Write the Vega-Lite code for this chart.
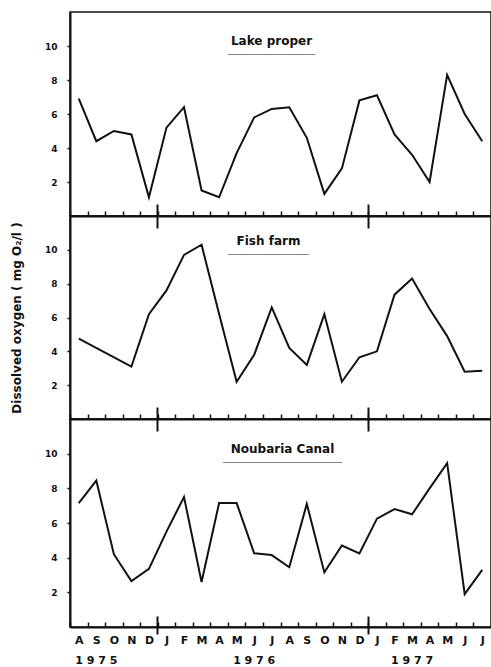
{
  "$schema": "https://vega.github.io/schema/vega-lite/v6.json",
  "background": "white",
  "padding": {"left": 9, "top": 11, "right": 0, "bottom": 0},
  "bounds": "flush",
  "spacing": 0,
  "config": {
    "font": "DejaVu Sans",
    "view": {"stroke": "#111", "strokeWidth": 1.5},
    "axis": {"grid": false, "labelFont": "DejaVu Sans", "labelFontWeight": "bold", "labelColor": "#111", "domainColor": "#111", "tickColor": "#111", "titleColor": "#111", "titleFont": "DejaVu Sans", "labelAngle": 0, "labelOverlap": false},
    "title": {"font": "DejaVu Sans", "fontWeight": "bold", "color": "#111", "subtitleColor": "#111", "subtitleFont": "DejaVu Sans", "frame": "group", "anchor": "middle", "fontSize": 12, "subtitleFontSize": 7, "subtitlePadding": -1}
  },
  "datasets": {
    "oxygen": [
      {"site": "Lake proper", "month": "1975-08", "do": 6.9},
      {"site": "Lake proper", "month": "1975-09", "do": 4.4},
      {"site": "Lake proper", "month": "1975-10", "do": 5.0},
      {"site": "Lake proper", "month": "1975-11", "do": 4.8},
      {"site": "Lake proper", "month": "1975-12", "do": 1.1},
      {"site": "Lake proper", "month": "1976-01", "do": 5.2},
      {"site": "Lake proper", "month": "1976-02", "do": 6.4},
      {"site": "Lake proper", "month": "1976-03", "do": 1.5},
      {"site": "Lake proper", "month": "1976-04", "do": 1.1},
      {"site": "Lake proper", "month": "1976-05", "do": 3.7},
      {"site": "Lake proper", "month": "1976-06", "do": 5.8},
      {"site": "Lake proper", "month": "1976-07", "do": 6.3},
      {"site": "Lake proper", "month": "1976-08", "do": 6.4},
      {"site": "Lake proper", "month": "1976-09", "do": 4.6},
      {"site": "Lake proper", "month": "1976-10", "do": 1.3},
      {"site": "Lake proper", "month": "1976-11", "do": 2.8},
      {"site": "Lake proper", "month": "1976-12", "do": 6.8},
      {"site": "Lake proper", "month": "1977-01", "do": 7.1},
      {"site": "Lake proper", "month": "1977-02", "do": 4.8},
      {"site": "Lake proper", "month": "1977-03", "do": 3.6},
      {"site": "Lake proper", "month": "1977-04", "do": 2.0},
      {"site": "Lake proper", "month": "1977-05", "do": 8.3},
      {"site": "Lake proper", "month": "1977-06", "do": 6.0},
      {"site": "Lake proper", "month": "1977-07", "do": 4.4},
      {"site": "Fish farm", "month": "1975-08", "do": 4.75},
      {"site": "Fish farm", "month": "1975-11", "do": 3.1},
      {"site": "Fish farm", "month": "1975-12", "do": 6.2},
      {"site": "Fish farm", "month": "1976-01", "do": 7.6},
      {"site": "Fish farm", "month": "1976-02", "do": 9.7},
      {"site": "Fish farm", "month": "1976-03", "do": 10.3},
      {"site": "Fish farm", "month": "1976-04", "do": 6.2},
      {"site": "Fish farm", "month": "1976-05", "do": 2.2},
      {"site": "Fish farm", "month": "1976-06", "do": 3.8},
      {"site": "Fish farm", "month": "1976-07", "do": 6.6},
      {"site": "Fish farm", "month": "1976-08", "do": 4.2},
      {"site": "Fish farm", "month": "1976-09", "do": 3.2},
      {"site": "Fish farm", "month": "1976-10", "do": 6.2},
      {"site": "Fish farm", "month": "1976-11", "do": 2.2},
      {"site": "Fish farm", "month": "1976-12", "do": 3.65},
      {"site": "Fish farm", "month": "1977-01", "do": 4.0},
      {"site": "Fish farm", "month": "1977-02", "do": 7.35},
      {"site": "Fish farm", "month": "1977-03", "do": 8.3},
      {"site": "Fish farm", "month": "1977-04", "do": 6.5},
      {"site": "Fish farm", "month": "1977-05", "do": 4.9},
      {"site": "Fish farm", "month": "1977-06", "do": 2.8},
      {"site": "Fish farm", "month": "1977-07", "do": 2.85},
      {"site": "Noubaria Canal", "month": "1975-08", "do": 7.15},
      {"site": "Noubaria Canal", "month": "1975-09", "do": 8.45},
      {"site": "Noubaria Canal", "month": "1975-10", "do": 4.2},
      {"site": "Noubaria Canal", "month": "1975-11", "do": 2.65},
      {"site": "Noubaria Canal", "month": "1975-12", "do": 3.35},
      {"site": "Noubaria Canal", "month": "1976-01", "do": 5.5},
      {"site": "Noubaria Canal", "month": "1976-02", "do": 7.5},
      {"site": "Noubaria Canal", "month": "1976-03", "do": 2.6},
      {"site": "Noubaria Canal", "month": "1976-04", "do": 7.15},
      {"site": "Noubaria Canal", "month": "1976-05", "do": 7.15},
      {"site": "Noubaria Canal", "month": "1976-06", "do": 4.25},
      {"site": "Noubaria Canal", "month": "1976-07", "do": 4.15},
      {"site": "Noubaria Canal", "month": "1976-08", "do": 3.45},
      {"site": "Noubaria Canal", "month": "1976-09", "do": 7.1},
      {"site": "Noubaria Canal", "month": "1976-10", "do": 3.15},
      {"site": "Noubaria Canal", "month": "1976-11", "do": 4.7},
      {"site": "Noubaria Canal", "month": "1976-12", "do": 4.25},
      {"site": "Noubaria Canal", "month": "1977-01", "do": 6.25},
      {"site": "Noubaria Canal", "month": "1977-02", "do": 6.8},
      {"site": "Noubaria Canal", "month": "1977-03", "do": 6.5},
      {"site": "Noubaria Canal", "month": "1977-04", "do": 8.0},
      {"site": "Noubaria Canal", "month": "1977-05", "do": 9.45},
      {"site": "Noubaria Canal", "month": "1977-06", "do": 1.9},
      {"site": "Noubaria Canal", "month": "1977-07", "do": 3.3}
    ]
  },
  "vconcat": [
    {
      "width": 421, "height": 204,
      "title": {"text": "Lake proper", "subtitle": "_________________________", "offset": -43, "dx": -9},
      "data": {"name": "oxygen"},
      "transform": [{"filter": "datum.site === 'Lake proper'"}],
      "encoding": {
        "y": {"field": "do", "type": "quantitative", "scale": {"domain": [0, 12], "nice": false},
          "axis": {"values": [2, 4, 6, 8, 10], "tickSize": 3, "tickWidth": 1.5, "labelFontSize": 9, "labelPadding": 10, "domainWidth": 2, "title": null}}
      },
      "layer": [
        {
          "mark": {"type": "line", "color": "#111", "strokeWidth": 2},
          "encoding": {
            "x": {"field": "month", "type": "ordinal", "bandPosition": 0.5,
              "scale": {"type": "band", "paddingInner": 0, "paddingOuter": 0, "domain": ["1975-08","1975-09","1975-10","1975-11","1975-12","1976-01","1976-02","1976-03","1976-04","1976-05","1976-06","1976-07","1976-08","1976-09","1976-10","1976-11","1976-12","1977-01","1977-02","1977-03","1977-04","1977-05","1977-06","1977-07"]},
              "axis": {"orient": "bottom", "tickBand": "extent", "tickSize": -5, "tickWidth": 1.5, "domainWidth": 2, "labels": false, "title": null}}
          }
        },
        {
          "mark": {"type": "line", "opacity": 0},
          "encoding": {
            "x": {"field": "month", "type": "ordinal",
              "axis": {"orient": "bottom", "values": ["1975-12", "1976-12"], "bandPosition": 1, "tickSize": 12, "tickWidth": 2, "labels": false, "domain": false, "title": null}}
          }
        },
        {
          "mark": {"type": "line", "opacity": 0},
          "encoding": {
            "x": {"field": "month", "type": "ordinal",
              "axis": {"orient": "bottom", "values": ["1975-12", "1976-12"], "bandPosition": 1, "tickSize": -12, "tickWidth": 2, "labels": false, "domain": false, "title": null}}
          }
        }
      ],
      "resolve": {"axis": {"x": "independent"}}
    },
    {
      "width": 421, "height": 203,
      "title": {"text": "Fish  farm", "subtitle": "_______________________", "offset": -39, "dx": -12},
      "data": {"name": "oxygen"},
      "transform": [{"filter": "datum.site === 'Fish farm'"}],
      "encoding": {
        "y": {"field": "do", "type": "quantitative", "scale": {"domain": [0, 12], "nice": false},
          "axis": {"values": [2, 4, 6, 8, 10], "tickSize": 3, "tickWidth": 1.5, "labelFontSize": 9, "labelPadding": 10, "domainWidth": 2,
            "title": "Dissolved  oxygen  ( mg O₂/l )", "titleFontSize": 12, "titleFontWeight": "bold", "titlePadding": 21}}
      },
      "layer": [
        {
          "mark": {"type": "line", "color": "#111", "strokeWidth": 2},
          "encoding": {
            "x": {"field": "month", "type": "ordinal", "bandPosition": 0.5,
              "scale": {"type": "band", "paddingInner": 0, "paddingOuter": 0, "domain": ["1975-08","1975-09","1975-10","1975-11","1975-12","1976-01","1976-02","1976-03","1976-04","1976-05","1976-06","1976-07","1976-08","1976-09","1976-10","1976-11","1976-12","1977-01","1977-02","1977-03","1977-04","1977-05","1977-06","1977-07"]},
              "axis": {"orient": "bottom", "tickBand": "extent", "tickSize": -5, "tickWidth": 1.5, "domainWidth": 2, "labels": false, "title": null}}
          }
        },
        {
          "mark": {"type": "line", "opacity": 0},
          "encoding": {
            "x": {"field": "month", "type": "ordinal",
              "axis": {"orient": "bottom", "values": ["1975-12", "1976-12"], "bandPosition": 1, "tickSize": 12, "tickWidth": 2, "labels": false, "domain": false, "title": null}}
          }
        },
        {
          "mark": {"type": "line", "opacity": 0},
          "encoding": {
            "x": {"field": "month", "type": "ordinal",
              "axis": {"orient": "bottom", "values": ["1975-12", "1976-12"], "bandPosition": 1, "tickSize": -12, "tickWidth": 2, "labels": false, "domain": false, "title": null}}
          }
        }
      ],
      "resolve": {"axis": {"x": "independent"}}
    },
    {
      "width": 421, "height": 208,
      "title": {"text": "Noubaria  Canal", "subtitle": "__________________________________", "offset": -44, "dx": 2},
      "data": {"name": "oxygen"},
      "transform": [{"filter": "datum.site === 'Noubaria Canal'"}],
      "encoding": {
        "y": {"field": "do", "type": "quantitative", "scale": {"domain": [0, 12], "nice": false},
          "axis": {"values": [2, 4, 6, 8, 10], "tickSize": 3, "tickWidth": 1.5, "labelFontSize": 9, "labelPadding": 10, "domainWidth": 2, "title": null}}
      },
      "layer": [
        {
          "mark": {"type": "line", "color": "#111", "strokeWidth": 2},
          "encoding": {
            "x": {"field": "month", "type": "ordinal", "bandPosition": 0.5,
              "scale": {"type": "band", "paddingInner": 0, "paddingOuter": 0, "domain": ["1975-08","1975-09","1975-10","1975-11","1975-12","1976-01","1976-02","1976-03","1976-04","1976-05","1976-06","1976-07","1976-08","1976-09","1976-10","1976-11","1976-12","1977-01","1977-02","1977-03","1977-04","1977-05","1977-06","1977-07"]},
              "axis": {"orient": "bottom", "tickBand": "extent", "tickSize": -5, "tickWidth": 1.5, "domainWidth": 2, "labels": true, "labelFontSize": 11, "labelPadding": 12,
                "labelExpr": "substring('JFMAMJJASOND', toNumber(substring(datum.value, 5, 7)) - 1, toNumber(substring(datum.value, 5, 7)))", "title": null}}
          }
        },
        {
          "mark": {"type": "line", "opacity": 0},
          "encoding": {
            "x": {"field": "month", "type": "ordinal",
              "axis": {"orient": "bottom", "values": ["1975-12", "1976-12"], "bandPosition": 1, "tickSize": 7, "tickWidth": 2, "labels": false, "domain": false, "title": null}}
          }
        },
        {
          "mark": {"type": "line", "opacity": 0},
          "encoding": {
            "x": {"field": "month", "type": "ordinal",
              "axis": {"orient": "bottom", "values": ["1975-12", "1976-12"], "bandPosition": 1, "tickSize": -11, "tickWidth": 2, "labels": false, "domain": false, "title": null}}
          }
        },
        {
          "mark": {"type": "line", "opacity": 0},
          "encoding": {
            "x": {"field": "month", "type": "ordinal",
              "axis": {"orient": "bottom", "values": ["1975-09", "1976-06", "1977-03"], "ticks": false, "domain": false, "labelFontSize": 11, "labelPadding": 27,
                "labelExpr": "'1 9 7 ' + substring(datum.value, 3, 4)", "title": null}}
          }
        }
      ],
      "resolve": {"axis": {"x": "independent"}}
    }
  ]
}
